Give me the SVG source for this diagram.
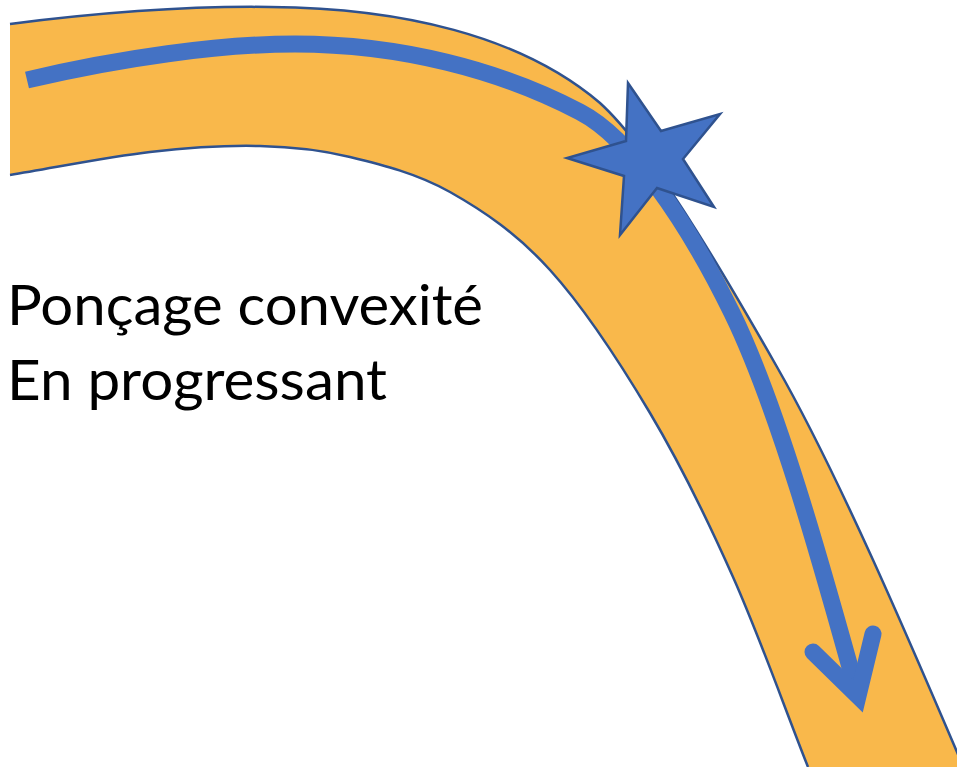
<svg xmlns="http://www.w3.org/2000/svg" width="957" height="767" viewBox="0 0 957 767">
  <style>
    .band { fill: #F9B84B; stroke: none; }
    .edge { fill: none; stroke: #2F528F; stroke-width: 2.5; }
    .path { fill: none; stroke: #4472C4; stroke-width: 17; }
    .star { fill: #4472C4; stroke: #2F528F; stroke-width: 2.5; stroke-linejoin: miter; }
    .label { font-family: Lato, "Liberation Sans", sans-serif; font-size: 56px; fill: #000000; }
  </style>
  <rect width="957" height="767" fill="#FFFFFF"/>

  <!-- curved sanding band -->
  <g id="band">
    <path class="band" d="M10,24 C120,10 200,6 270,7 C400,8 520,35 600,103 C655,153 732,288 777,367 C837,472 907,635 957,752 L963,767 L808,767 C783,703.7 759.3,636 733,577 C706.7,518 680.5,464.2 650,413 C619.5,361.8 583.3,306.8 550,270 C516.7,233.2 483.3,210.8 450,192 C416.7,173.2 381.7,164.7 350,157 C318.3,149.2 293.3,146.8 260,146 C226.7,145.2 191.7,147.2 150,152 C108.3,156.8 56.7,167.3 10,175 Z"/>
    <path class="edge" d="M10,24 C120,10 200,6 270,7 C400,8 520,35 600,103 C655,153 732,288 777,367 C837,472 907,635 957,752 L963,767"/>
    <path class="edge" d="M10,175 C56.7,167.3 108.3,156.8 150,152 C191.7,147.2 226.7,145.2 260,146 C293.3,146.8 318.3,149.2 350,157 C381.7,164.7 416.7,173.2 450,192 C483.3,210.8 516.7,233.2 550,270 C583.3,306.8 619.5,361.8 650,413 C680.5,464.2 706.7,518 733,577 C759.3,636 783,703.7 808,767"/>
  </g>

  <!-- direction of travel -->
  <g id="connectors">
    <path class="path" stroke-linecap="butt" d="M27,80 C120,58 220,44 295,44 C400,44 500,70 580,112 C630,138 687,221 732,313 C777,405 821,562 858,696"/>
    <path class="path" stroke-linecap="round" stroke-linejoin="miter" d="M813,652 L858,696 L873,634"/>
  </g>

  <g id="star">
    <polygon class="star" points="628,83 661,131 720,114 683,159 714,207 657,188 620,235 624,176 567,158 626,141"/>
  </g>

  <g id="caption">
    <text class="label" x="7" y="325" textLength="476" lengthAdjust="spacingAndGlyphs">Ponçage convexité</text>
    <text class="label" x="7" y="400" textLength="380" lengthAdjust="spacingAndGlyphs">En progressant</text>
  </g>
</svg>
